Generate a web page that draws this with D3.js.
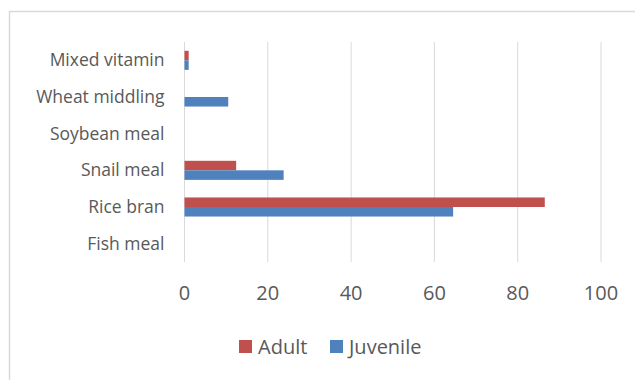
<!DOCTYPE html>
<html>
<head>
<meta charset="utf-8">
<script src="https://cdn.jsdelivr.net/npm/d3@7"></script>
<style>
  body { margin: 0; background: #fff; }
  text { font-family: "Open Sans", "Liberation Sans", sans-serif; fill: #595959; }
</style>
</head>
<body>
<svg id="chart"></svg>
<script>
// DATA
const ingredients = ["Mixed vitamin", "Wheat middling", "Soybean meal", "Snail meal", "Rice bran", "Fish meal"];
const adultValues = [1, 0, 0, 12.4, 86.5, 0];
const juvenileValues = [1, 10.5, 0, 23.8, 64.5, 0];
const seriesNames = ["Adult", "Juvenile"];
const seriesColors = ["#C0504D", "#4F81BD"];
const xTicks = [0, 20, 40, 60, 80, 100];

const W = 635, H = 380;
const margin = { top: 42, right: 34, bottom: 118, left: 184.5 };
const width = W - margin.left - margin.right;
const height = H - margin.top - margin.bottom;

const svg = d3.select("#chart").attr("width", W).attr("height", H);

// chart border (only top and left edges are visible in the crop)
svg.append("path")
    .attr("d", `M9.5,${H} V11.5 H${W}`)
    .attr("fill", "none")
    .attr("stroke", "#D9D9D9")
    .attr("stroke-width", 1.5);

const g = svg.append("g").attr("transform", `translate(${margin.left},${margin.top})`);

const x = d3.scaleLinear().domain([0, 100]).range([0, width]);
const y = d3.scaleBand().domain(ingredients).range([0, height]).paddingInner(0.48).paddingOuter(0.24);
const ySub = d3.scaleBand().domain(seriesNames).range([0, y.bandwidth()]);

// gridlines
g.selectAll(".grid")
    .data(xTicks)
    .join("line")
    .attr("x1", d => x(d)).attr("x2", d => x(d))
    .attr("y1", 0).attr("y2", height)
    .attr("stroke", "#D9D9D9")
    .attr("stroke-width", 1);

// bars
const rows = ingredients.map((c, i) => ({ cat: c, vals: [adultValues[i], juvenileValues[i]] }));
g.selectAll(".row")
    .data(rows)
    .join("g")
    .attr("transform", d => `translate(0,${y(d.cat)})`)
    .selectAll("rect")
    .data(d => d.vals.map((v, j) => ({ key: seriesNames[j], v, color: seriesColors[j] })))
    .join("rect")
    .attr("x", x(0))
    .attr("y", d => ySub(d.key))
    .attr("width", d => x(d.v) - x(0))
    .attr("height", ySub.bandwidth())
    .attr("fill", d => d.color);

// category labels
g.selectAll(".cat")
    .data(ingredients)
    .join("text")
    .attr("x", -20)
    .attr("y", d => y(d) + y.bandwidth() / 2)
    .attr("dy", "0.35em")
    .attr("text-anchor", "end")
    .style("font-size", "17.5px")
    .text(d => d);

// x tick labels
g.selectAll(".tick-label")
    .data(xTicks)
    .join("text")
    .attr("x", d => x(d))
    .attr("y", height + 31)
    .attr("dy", "0.35em")
    .attr("text-anchor", "middle")
    .style("font-size", "20px")
    .text(d => d);

// legend
const legendX = [239, 330];
const legend = svg.selectAll(".legend")
    .data(seriesNames)
    .join("g")
    .attr("transform", (d, i) => `translate(${legendX[i]},340)`);
legend.append("rect")
    .attr("width", 13).attr("height", 13)
    .attr("fill", (d, i) => seriesColors[i]);
legend.append("text")
    .attr("x", 19).attr("y", 7)
    .attr("dy", "0.35em")
    .style("font-size", "20px")
    .text(d => d);
</script>
</body>
</html>
